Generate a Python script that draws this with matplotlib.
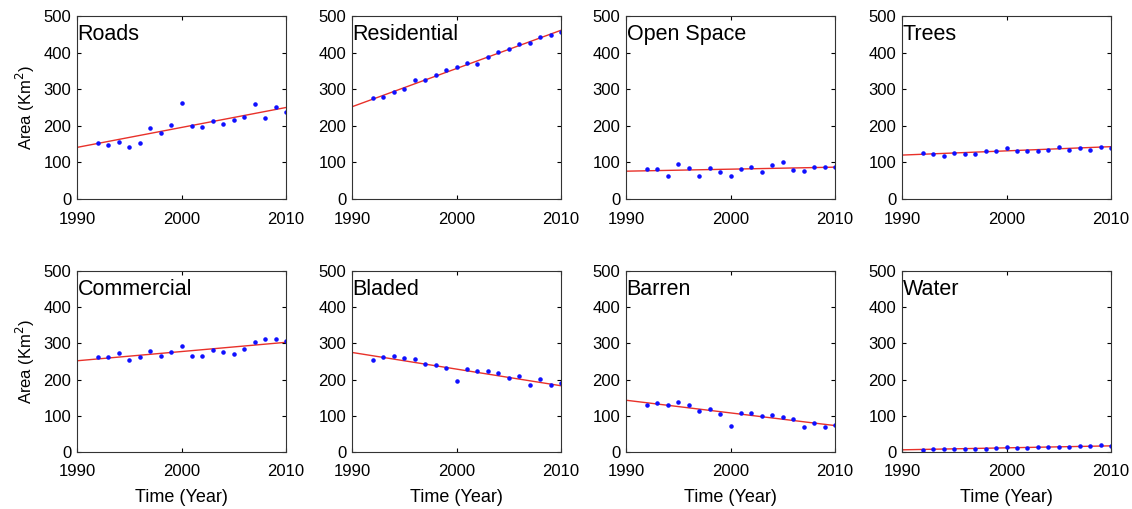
import matplotlib.pyplot as plt
import numpy as np

plt.rcParams['font.family'] = ['Liberation Sans', 'DejaVu Sans']

years = list(range(1992, 2011))
fit_years = [1990, 2010]

names = ['Roads', 'Residential', 'Open Space', 'Trees',
         'Commercial', 'Bladed', 'Barren', 'Water']

roads = [154, 147, 156, 142, 154, 193, 181, 202, 263, 200,
         198, 212, 205, 215, 224, 260, 222, 251, 239]
residential = [275, 279, 291, 301, 324, 326, 338, 352, 362, 372,
               369, 388, 401, 411, 424, 427, 443, 449, 456]
open_space = [82, 82, 64, 96, 84, 62, 84, 74, 64, 82,
              87, 74, 92, 101, 79, 77, 87, 87, 87]
trees = [125, 122, 118, 125, 122, 122, 130, 130, 140, 132,
         132, 130, 135, 142, 135, 140, 135, 142, 140]
commercial = [262, 262, 274, 255, 262, 278, 266, 277, 293, 266,
              264, 281, 277, 271, 285, 303, 311, 313, 308]
bladed = [255, 262, 266, 259, 257, 244, 240, 231, 196, 228,
          225, 223, 218, 205, 211, 186, 201, 184, 190]
barren = [129, 136, 129, 139, 131, 112, 119, 105, 73, 109,
          109, 100, 102, 97, 92, 68, 80, 68, 75]
water = [6, 8, 9, 9, 9, 9, 7, 11, 14, 11,
         11, 14, 14, 14, 14, 17, 17, 20, 17]

# trend line values at 1990 and 2010
roads_fit = [141, 250]
residential_fit = [252, 461]
open_space_fit = [76, 87]
trees_fit = [120, 143]
commercial_fit = [252, 303]
bladed_fit = [275, 183]
barren_fit = [143, 73]
water_fit = [6, 17]

series = [roads, residential, open_space, trees,
          commercial, bladed, barren, water]
fits = [roads_fit, residential_fit, open_space_fit, trees_fit,
        commercial_fit, bladed_fit, barren_fit, water_fit]

W, H = 1132, 509
fig = plt.figure(figsize=(W / 100, H / 100), dpi=100)

lefts = [77, 352, 626, 902]
axw = 209
rows = [(16, 199), (271, 452)]

for i, name in enumerate(names):
    r, c = divmod(i, 4)
    top, bot = rows[r]
    ax = fig.add_axes([lefts[c] / W, 1 - bot / H, axw / W, (bot - top) / H])
    ax.plot(fit_years, fits[i], color='#e8312a', lw=1.0, zorder=1)
    ax.plot(years, series[i], '.', color='#1010ff', ms=4.5, zorder=2)
    ax.set_xlim(1990, 2010)
    ax.set_ylim(0, 500)
    ax.set_xticks([1990, 2000, 2010])
    ax.set_yticks(range(0, 501, 100))
    ax.tick_params(direction='in', top=True, right=True, length=3,
                   labelsize=12, width=0.8)
    ax.tick_params(axis='x', pad=9)
    ax.tick_params(axis='y', pad=4)
    for s in ax.spines.values():
        s.set_linewidth(0.8)
        s.set_color('#333333')
    ax.text(0.003, 0.955, name, transform=ax.transAxes, fontsize=15.5,
            va='top', ha='left')
    if c == 0:
        ax.set_ylabel('Area (Km$^2$)', fontsize=12, labelpad=5)
    if r == 1:
        ax.set_xlabel('Time (Year)', fontsize=13, labelpad=7)

fig.savefig('out.png', dpi=100)
